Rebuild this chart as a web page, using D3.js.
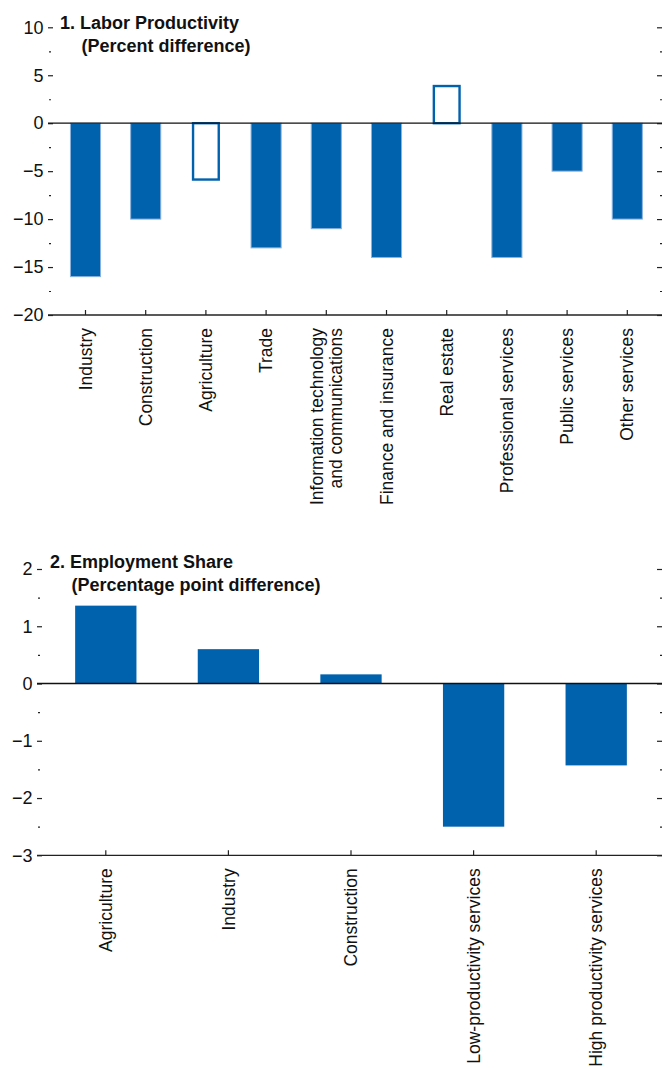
<!DOCTYPE html>
<html>
<head>
<meta charset="utf-8">
<script src="https://cdn.jsdelivr.net/npm/d3@7"></script>
<style>
  html, body { margin: 0; padding: 0; background: #fff; }
  svg { display: block; font-family: "Liberation Sans", Arial, sans-serif; }
</style>
</head>
<body>
<svg id="chart" width="662" height="1068"></svg>
<script>
// ---------- Panel 1 data ----------
const laborCategories = [
  "Industry", "Construction", "Agriculture", "Trade",
  "Information technology|and communications", "Finance and insurance",
  "Real estate", "Professional services", "Public services", "Other services"
];
const laborValues = [-16, -10, -6, -13, -11, -14, 4, -14, -5, -10];
const laborHollow = ["Agriculture", "Real estate"];
const laborMajorTicks = [-20, -15, -10, -5, 0, 5, 10];
const laborMinorTicks = [-17.5, -12.5, -7.5, -2.5, 2.5, 7.5];

// ---------- Panel 2 data ----------
const empCategories = [
  "Agriculture", "Industry", "Construction",
  "Low-productivity services", "High productivity services"
];
const empValues = [1.36, 0.60, 0.16, -2.50, -1.43];
const empMajorTicks = [-3, -2, -1, 0, 1, 2];
const empMinorTicks = [-2.5, -1.5, -0.5, 0.5, 1.5];

const BLUE = "#0061ad";
const svg = d3.select("#chart");

function panel(opts) {
  const g = svg.append("g");
  const y = d3.scaleLinear().domain(opts.yDomain).range(opts.yRange);
  const x = d3.scaleBand().domain(opts.categories)
    .range(opts.xRange).paddingInner(0.5).paddingOuter(0.25);
  const bottom = y(opts.yDomain[0]);
  const right = 662;

  // left axis (ticks inward)
  const left = g.append("g").attr("transform", `translate(${opts.left},0)`)
    .call(d3.axisLeft(y).tickValues(opts.major).tickSize(-5).tickPadding(4.5)
      .tickFormat(d3.format("d")));
  left.select(".domain").remove();
  left.selectAll("text").attr("font-size", 18).attr("fill", "#111");
  left.selectAll("line").attr("stroke", "#222").attr("stroke-width", 1.2);

  const leftMinor = g.append("g").attr("transform", `translate(${opts.left + 1},0)`)
    .call(d3.axisLeft(y).tickValues(opts.minor).tickSize(-2).tickFormat(""));
  leftMinor.select(".domain").remove();
  leftMinor.selectAll("line").attr("stroke", "#222").attr("stroke-width", 1.2);

  // right axis ticks (inward, no labels)
  const rightAx = g.append("g").attr("transform", `translate(${right},0)`)
    .call(d3.axisRight(y).tickValues(opts.major).tickSize(-5).tickFormat(""));
  rightAx.select(".domain").remove();
  rightAx.selectAll("line").attr("stroke", "#222").attr("stroke-width", 1.2);
  const rightMinor = g.append("g").attr("transform", `translate(${right},0)`)
    .call(d3.axisRight(y).tickValues(opts.minor).tickSize(-2).tickFormat(""));
  rightMinor.select(".domain").remove();
  rightMinor.selectAll("line").attr("stroke", "#222").attr("stroke-width", 1.2);

  // bars
  const data = opts.categories.map((c, i) => ({ c, v: opts.values[i] }));
  const bw = x.bandwidth();
  g.append("g").selectAll("rect.bar")
    .data(data.filter(d => !(opts.hollow || []).includes(d.c)))
    .join("rect")
    .attr("class", "bar")
    .attr("x", d => x(d.c))
    .attr("width", bw)
    .attr("y", d => Math.min(y(0), y(d.v)))
    .attr("height", d => Math.abs(y(d.v) - y(0)))
    .attr("fill", BLUE)
    .attr("stroke", opts.edge ? "#8ab2de" : "none")
    .attr("stroke-width", opts.edge ? 1 : 0);

  g.append("g").selectAll("rect.hollow")
    .data(data.filter(d => (opts.hollow || []).includes(d.c)))
    .join("rect")
    .attr("class", "hollow")
    .attr("x", d => x(d.c) + 2.2)
    .attr("width", bw - 4.4)
    .attr("y", d => Math.min(y(0), y(d.v)) + (d.v > 0 ? 1.2 : 0))
    .attr("height", d => Math.abs(y(d.v) - y(0)) - 1.2)
    .attr("fill", "#fff")
    .attr("stroke", BLUE)
    .attr("stroke-width", 2.4);

  // zero line
  g.append("line")
    .attr("x1", opts.left).attr("x2", right)
    .attr("y1", y(0)).attr("y2", y(0))
    .attr("stroke", "#111").attr("stroke-width", 1.3);

  // bottom axis: baseline + ticks pointing up
  const bAx = g.append("g").attr("transform", `translate(0,${bottom})`)
    .call(d3.axisBottom(x).tickSize(-5).tickFormat(""));
  bAx.select(".domain").remove();
  bAx.selectAll("line").attr("stroke", "#222").attr("stroke-width", 1.2);
  g.append("line")
    .attr("x1", opts.left).attr("x2", right)
    .attr("y1", bottom).attr("y2", bottom)
    .attr("stroke", "#222").attr("stroke-width", 1.3);

  // category labels (rotated)
  opts.categories.forEach(c => {
    const lines = c.split("|");
    const cx = x(c) + bw / 2;
    const t = g.append("text")
      .attr("transform", `translate(${cx},${bottom + 13}) rotate(-90)`)
      .attr("text-anchor", "end")
      .attr("font-size", 17.5)
      .attr("fill", "#111");
    const lh = 18.5;
    lines.forEach((ln, i) => {
      const off = (i - (lines.length - 1) / 2) * lh;
      t.append("tspan").attr("x", 0).attr("y", off).attr("dy", "0.35em").text(ln);
    });
  });

  // title
  const tt = g.append("text").attr("font-size", 18).attr("font-weight", "bold").attr("fill", "#111");
  tt.append("tspan").attr("x", opts.titleX1).attr("y", opts.titleY1).text(opts.title1);
  tt.append("tspan").attr("x", opts.titleX2).attr("y", opts.titleY2).text(opts.title2);
}

panel({
  categories: laborCategories, values: laborValues, hollow: laborHollow,
  yDomain: [-20, 10], yRange: [315, 27.3],
  xRange: [55.4, 657.4], left: 48,
  major: laborMajorTicks, minor: laborMinorTicks, edge: true,
  title1: "1. Labor Productivity", title2: "(Percent difference)",
  titleX1: 60, titleY1: 28.5, titleX2: 81.5, titleY2: 51.5
});

panel({
  categories: empCategories, values: empValues,
  yDomain: [-3, 2], yRange: [855.3, 569],
  xRange: [44.5, 657.5], left: 37,
  major: empMajorTicks, minor: empMinorTicks, edge: false,
  title1: "2. Employment Share", title2: "(Percentage point difference)",
  titleX1: 50, titleY1: 567.5, titleX2: 71.5, titleY2: 590.5
});
</script>
</body>
</html>
